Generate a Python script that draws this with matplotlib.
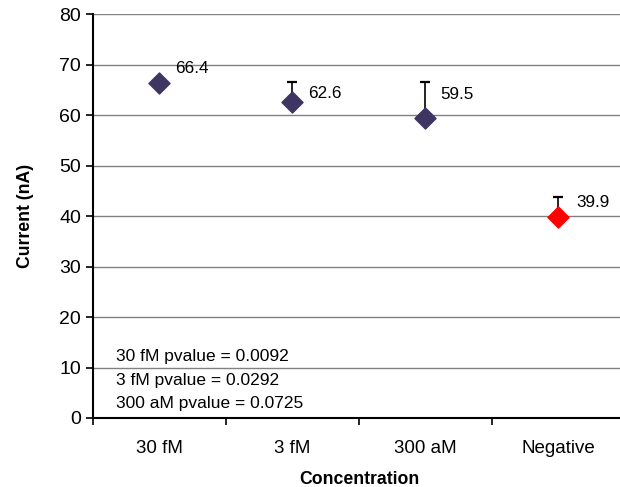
import matplotlib
matplotlib.use("Agg")
from matplotlib import pyplot as plt
from matplotlib.ticker import FixedLocator

plt.rcParams['font.family'] = ['Liberation Sans', 'DejaVu Sans']

categories = ["30 fM", "3 fM", "300 aM", "Negative"]
current = [66.4, 62.6, 59.5, 39.9]
err_up = [0.0, 3.9, 7.0, 3.8]
colors = ["#3f3563", "#3f3563", "#3f3563", "#ff0000"]
pvalues = ["30 fM pvalue = 0.0092", "3 fM pvalue = 0.0292", "300 aM pvalue = 0.0725"]
pvalue_y = [12.1, 7.5, 2.8]

# label offsets (points) for the value labels
label_off = [(11, 10), (11, 6), (11, 17), (13, 10)]

fig = plt.figure(figsize=(6.2, 4.87), dpi=100)
ax = fig.add_axes([0.150, 0.1417, 0.858, 0.8293])

x = list(range(len(categories)))
for i in x:
    if err_up[i] > 0:
        ax.errorbar(i, current[i], yerr=[[0], [err_up[i]]], fmt="none",
                    ecolor="black", elinewidth=1.2, capsize=3.6, capthick=1.6, zorder=3)
    ax.scatter(i, current[i], marker="D", s=115, color=colors[i], zorder=4)
    ax.annotate("{}".format(current[i]), xy=(i, current[i]), xytext=label_off[i],
                textcoords="offset points", ha="left", va="center", fontsize=12.3)

for txt, yy in zip(pvalues, pvalue_y):
    ax.text(-0.33, yy, txt, fontsize=12.5, ha="left", va="center")

ax.set_xlim(-0.5, 3.5)
ax.set_ylim(0, 80)
ax.set_yticks(range(0, 81, 10))
ax.set_xticks(x)
ax.set_xticklabels(categories, fontsize=13.5)
ax.tick_params(axis="x", which="major", length=0, pad=16)
ax.xaxis.set_minor_locator(FixedLocator([-0.5, 0.5, 1.5, 2.5, 3.5]))
ax.tick_params(axis="x", which="minor", length=5, width=1.2, direction="out")
ax.tick_params(axis="y", length=5, width=1.2, direction="out", labelsize=14)
ax.grid(axis="y", color="#808080", linewidth=1)
ax.set_axisbelow(True)
for s in ["top", "right"]:
    ax.spines[s].set_visible(False)
ax.spines["left"].set_linewidth(1.5)
ax.spines["bottom"].set_linewidth(1.5)

ax.set_xlabel("Concentration", fontsize=12.7, fontweight="bold", labelpad=10)
ax.set_ylabel("Current (nA)", fontsize=12.7, fontweight="bold", labelpad=18)

plt.savefig("out.png")
